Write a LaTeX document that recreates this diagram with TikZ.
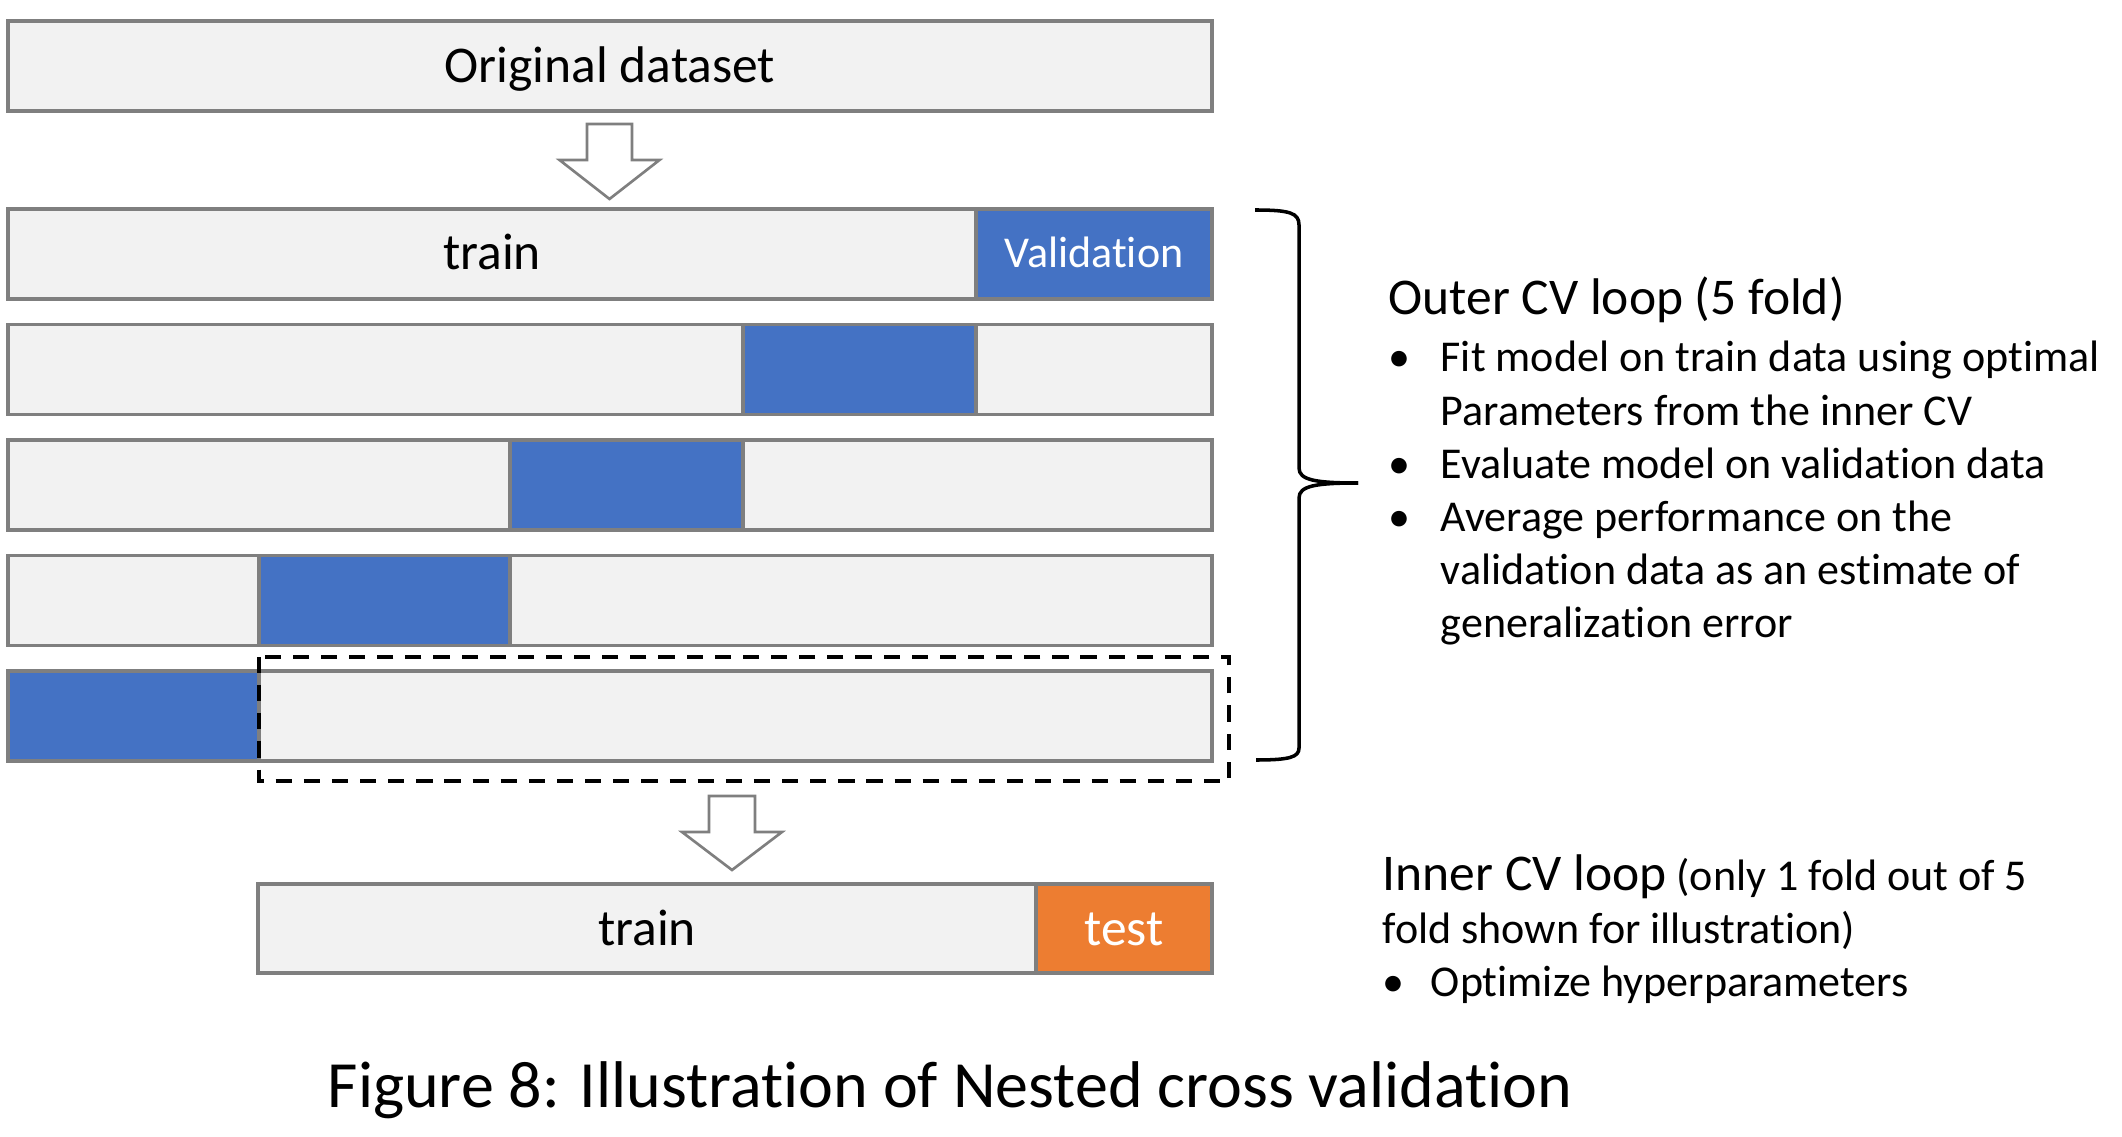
\documentclass[tikz,border=0pt]{standalone}
\usepackage{fontspec}
\setmainfont{Carlito}[Ligatures={NoCommon}]
\definecolor{segline}{HTML}{7F7F7F}
\definecolor{segfill}{HTML}{F2F2F2}
\definecolor{valblue}{HTML}{4472C4}
\definecolor{testorange}{HTML}{ED7D31}
\tikzset{
  seg/.style={draw=segline, fill=segfill, line width=0.9pt},
  bigtext/.style={font=\fontsize{14.65}{17.6}\selectfont},
  smalltext/.style={font=\fontsize{12.52}{15.08}\selectfont},
  blockarrow/.style={draw=segline, fill=white, line width=0.75pt},
  dashbox/.style={draw=black, line width=0.9pt, dash pattern=on 4.6pt off 3.4pt},
}
\begin{document}
\begin{tikzpicture}[x=0.01cm, y=-0.01cm]
    \useasboundingbox (0,0) rectangle (2122,1137);
    % whole data set
    \filldraw[seg] (8,21) rectangle (1212,111);
    \node[bigtext, anchor=base] (orig) at (610,83) {Original dataset};
    \draw[blockarrow] (587,124) -- ++(45,0) -- ++(0,36) -- ++(27.5,0)
        -- ++(-50,39) -- ++(-50,-39) -- ++(27.5,0) -- cycle;
    % outer folds, blue part moves left each row
    \foreach \i/\a/\b in {0/976/1212, 1/743/976, 2/510/743, 3/259/510, 4/8/259}{%
      \filldraw[seg] (8,{209+115.5*\i}) rectangle (1212,{299+115.5*\i});
      \filldraw[seg, fill=valblue] (\a,{209+115.5*\i}) rectangle (\b,{299+115.5*\i});}
    \node[bigtext, anchor=base] (trainA) at (492,270) {train};
    \node[smalltext, anchor=base, text=white] (valA) at (1094,268) {Validation};
    \draw[dashbox] (259,657) rectangle (1229,781);
    % inner fold
    \draw[blockarrow] (709,796) -- ++(46,0) -- ++(0,36) -- ++(27,0)
        -- ++(-50,38) -- ++(-50,-38) -- ++(27,0) -- cycle;
    \filldraw[seg] (258,884) rectangle (1212,973);
    \filldraw[seg, fill=testorange] (1036,884) rectangle (1212,973);
    \node[bigtext, anchor=base] (trainB) at (647,945) {train};
    \node[bigtext, anchor=base, text=white] (testB) at (1124,945) {test};
    % brace over the outer folds
    \draw[line width=1pt] (1255,210) .. controls (1290,210) and (1299,213) .. (1299,225)
        -- (1299,468) .. controls (1299,480) and (1315,483) .. (1358,483);
    \draw[line width=1pt] (1358,483) .. controls (1315,483) and (1299,486) .. (1299,498)
        -- (1299,748) .. controls (1299,757) and (1290,760) .. (1256,760);
    \node[bigtext, anchor=base west, inner sep=0pt] (outerhead) at (1388,315) {Outer CV loop (5 fold)};
    \node[smalltext, anchor=base west, inner sep=0pt] (outerlist) at (1388,372) {%
      \begin{tabular}[t]{@{}p{14.8pt}@{}l@{}}
      • & Fit model on train data using optimal\\
        & Parameters from the inner CV\\
      • & Evaluate model on validation data\\
      • & Average performance on the\\
        & validation data as an estimate of\\
        & generalization error
      \end{tabular}};
    \node[smalltext, anchor=base west, inner sep=0pt] (innerlist) at (1382,890) {%
      \begin{tabular}[t]{@{}p{13.7pt}@{}l@{}}
      \multicolumn{2}{@{}l@{}}{{\fontsize{14.65}{15.08}\selectfont Inner CV loop} (only 1 fold out of 5}\\
      \multicolumn{2}{@{}l@{}}{fold shown for illustration)}\\
      • & Optimize hyperparameters
      \end{tabular}};
    % caption line
    \node[font=\fontsize{18.78}{22}\selectfont, anchor=base] (caption) at (950,1107)
        {Figure 8: Illustration of Nested cross validation};
\end{tikzpicture}
\end{document}
